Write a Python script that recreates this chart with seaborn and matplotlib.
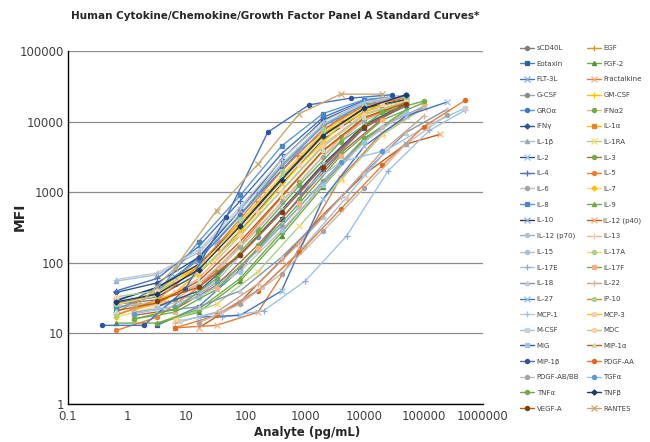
import matplotlib
matplotlib.use("Agg")
from matplotlib import pyplot as plt
import seaborn as sns
import warnings
warnings.filterwarnings('ignore')

# standard curve data: concentration (pg/mL) and MFI
x_scd40l = [0.65, 3.2, 16, 80, 400, 2000, 10000, 50000]
y_scd40l = [26, 30, 48, 130, 520, 2400, 8800, 16500]
x_egf = [0.65, 3.2, 16, 80, 400, 2000, 10000, 50000]
y_egf = [20, 40, 110, 480, 2400, 9000, 17500, 21000]
x_eotaxin = [3.2, 16, 80, 400, 2000, 10000, 50000]
y_eotaxin = [13, 24, 80, 420, 2100, 8200, 17000]
x_fgf2 = [0.65, 3.2, 16, 80, 400, 2000, 10000, 50000]
y_fgf2 = [14, 14, 20, 55, 240, 1200, 5600, 13500]
x_flt3l = [1.3, 6.4, 32, 160, 800, 4000, 20000]
y_flt3l = [30, 62, 200, 900, 3800, 11500, 19000]
x_fractalkine = [6.4, 32, 160, 800, 4000, 20000, 100000]
y_fractalkine = [12, 13, 20, 160, 1600, 7000, 16000]
x_gcsf = [0.65, 3.2, 16, 80, 400, 2000, 10000, 50000]
y_gcsf = [24, 26, 36, 85, 330, 1450, 5800, 13500]
x_gmcsf = [0.65, 3.2, 16, 80, 400, 2000, 10000, 50000]
y_gmcsf = [25, 38, 95, 380, 1700, 6800, 15000, 20000]
x_gro = [0.65, 3.2, 16, 80, 400, 2000, 10000, 50000]
y_gro = [30, 44, 110, 480, 2300, 8600, 17500, 22000]
x_ifna2 = [1.3, 6.4, 32, 160, 800, 4000, 20000]
y_ifna2 = [22, 30, 75, 300, 1400, 6000, 15000]
x_ifng = [0.65, 3.2, 16, 80, 400, 2000, 10000, 50000]
y_ifng = [38, 52, 120, 560, 2900, 10500, 19000, 23500]
x_il1a = [1.3, 6.4, 32, 160, 800, 4000, 20000]
y_il1a = [28, 50, 160, 700, 3200, 11000, 19500]
x_il1b = [0.65, 3.2, 16, 80, 400, 2000, 10000, 50000]
y_il1b = [55, 68, 140, 560, 2500, 9200, 18500, 22500]
x_il1ra = [6.4, 32, 160, 800, 4000, 20000, 100000]
y_il1ra = [16, 26, 75, 330, 1500, 6500, 15500]
x_il2 = [0.65, 3.2, 16, 80, 400, 2000, 10000, 50000]
y_il2 = [27, 33, 70, 280, 1300, 5600, 14000, 20500]
x_il3 = [1.3, 6.4, 32, 160, 800, 4000, 20000]
y_il3 = [18, 22, 48, 180, 800, 3600, 11000]
x_il4 = [0.65, 3.2, 16, 80, 400, 2000, 10000, 50000]
y_il4 = [40, 60, 170, 750, 3500, 11500, 20000, 23000]
x_il5 = [0.65, 3.2, 16, 80, 400, 2000, 10000, 50000]
y_il5 = [11, 17, 45, 180, 850, 3800, 11000, 18500]
x_il6 = [0.65, 3.2, 16, 80, 400, 2000, 10000, 50000]
y_il6 = [24, 28, 50, 170, 720, 3200, 10500, 17500]
x_il7 = [0.65, 3.2, 16, 80, 400, 2000, 10000, 50000]
y_il7 = [17, 24, 70, 300, 1400, 5800, 14500, 19500]
x_il8 = [0.65, 3.2, 16, 80, 400, 2000, 10000, 50000]
y_il8 = [22, 38, 200, 900, 4500, 13000, 20500, 23500]
x_il9 = [3.2, 16, 80, 400, 2000, 10000, 50000]
y_il9 = [14, 22, 60, 270, 1300, 5800, 14500]
x_il10 = [0.65, 3.2, 16, 80, 400, 2000, 10000, 50000]
y_il10 = [29, 45, 95, 350, 1550, 6400, 15500, 21000]
x_il12p40 = [16, 80, 400, 2000, 10000, 50000, 190000]
y_il12p40 = [12, 28, 110, 480, 1800, 4800, 6600]
x_il12p70 = [1.3, 6.4, 32, 160, 800, 4000, 20000, 100000]
y_il12p70 = [20, 24, 45, 150, 620, 2600, 8500, 16500]
x_il13 = [0.65, 3.2, 16, 80, 400, 2000, 10000, 50000]
y_il13 = [19, 26, 60, 240, 1050, 4700, 13000, 19000]
x_il15 = [3.2, 16, 80, 400, 2000, 10000, 50000]
y_il15 = [24, 32, 75, 290, 1250, 5200, 13500]
x_il17a = [0.65, 3.2, 16, 80, 400, 2000, 10000, 50000]
y_il17a = [26, 34, 85, 360, 1700, 7200, 16500, 21500]
x_il17e = [40, 200, 1000, 5000, 25000, 125000, 500000]
y_il17e = [17, 21, 55, 240, 2000, 7500, 14500]
x_il17f = [1.3, 6.4, 32, 160, 800, 4000, 20000, 100000]
y_il17f = [16, 20, 42, 160, 700, 3300, 10500, 18500]
x_il18 = [3.2, 16, 80, 400, 2000, 10000, 50000, 250000]
y_il18 = [20, 24, 40, 120, 450, 1900, 7000, 15000]
x_il22 = [6.4, 32, 160, 800, 4000, 20000, 100000]
y_il22 = [14, 20, 50, 190, 850, 3800, 12000]
x_il27 = [16, 80, 400, 2000, 10000, 50000, 250000]
y_il27 = [17, 18, 40, 800, 4500, 12000, 19000]
x_ip10 = [0.65, 3.2, 16, 80, 400, 2000, 10000, 50000]
y_ip10 = [18, 30, 90, 420, 2000, 7800, 17000, 21500]
x_mcp1 = [0.65, 3.2, 16, 80, 400, 2000, 10000, 50000]
y_mcp1 = [58, 72, 150, 620, 2900, 10000, 19000, 24000]
x_mcp3 = [1.3, 6.4, 32, 160, 800, 4000, 20000]
y_mcp3 = [21, 38, 120, 520, 2400, 9000, 18000]
x_mcsf = [7.7, 38, 190, 960, 4800, 24000, 120000, 500000]
y_mcsf = [15, 20, 45, 170, 820, 4000, 8900, 15600]
x_mdc = [0.65, 3.2, 16, 80, 400, 2000, 10000, 50000]
y_mdc = [33, 40, 75, 250, 1050, 4400, 12500, 19000]
x_mig = [3.2, 16, 80, 400, 2000, 10000, 50000]
y_mig = [24, 40, 130, 560, 2500, 9000, 18000]
x_mip1a = [0.65, 3.2, 16, 80, 400, 2000, 10000, 50000]
y_mip1a = [21, 27, 55, 200, 880, 3900, 11500, 18500]
x_mip1b = [0.38, 1.9, 9.5, 47, 235, 1170, 5900, 29000]
y_mip1b = [13, 13, 42, 450, 7100, 17300, 21500, 24000]
x_pdgfaa = [6.4, 32, 160, 800, 4000, 20000, 100000, 500000]
y_pdgfaa = [12, 18, 40, 140, 580, 2400, 8500, 20000]
x_pdgfbb = [16, 80, 400, 2000, 10000, 50000, 250000]
y_pdgfbb = [14, 26, 70, 280, 1150, 4800, 12500]
x_tgfa = [1.3, 6.4, 32, 160, 800, 4000, 20000]
y_tgfa = [19, 24, 55, 230, 1000, 2700, 3800]
x_tnfa = [1.3, 6.4, 32, 160, 800, 4000, 20000, 100000]
y_tnfa = [16, 22, 60, 270, 1250, 5200, 13500, 19500]
x_tnfb = [0.65, 3.2, 16, 80, 400, 2000, 10000, 50000]
y_tnfb = [28, 36, 80, 330, 1500, 6300, 15500, 24000]
x_vegfa = [3.2, 16, 80, 400, 2000, 10000, 50000]
y_vegfa = [29, 45, 130, 520, 2300, 8500, 17500]
x_rantes = [1.3, 6.4, 32, 160, 800, 4000, 20000]
y_rantes = [22, 85, 550, 2500, 13000, 24500, 24500]

series = [
    ("sCD40L", x_scd40l, y_scd40l), ("EGF", x_egf, y_egf),
    ("Eotaxin", x_eotaxin, y_eotaxin), ("FGF-2", x_fgf2, y_fgf2),
    ("FLT-3L", x_flt3l, y_flt3l), ("Fractalkine", x_fractalkine, y_fractalkine),
    ("G-CSF", x_gcsf, y_gcsf), ("GM-CSF", x_gmcsf, y_gmcsf),
    ("GROα", x_gro, y_gro), ("IFNα2", x_ifna2, y_ifna2),
    ("IFNγ", x_ifng, y_ifng), ("IL-1α", x_il1a, y_il1a),
    ("IL-1β", x_il1b, y_il1b), ("IL-1RA", x_il1ra, y_il1ra),
    ("IL-2", x_il2, y_il2), ("IL-3", x_il3, y_il3),
    ("IL-4", x_il4, y_il4), ("IL-5", x_il5, y_il5),
    ("IL-6", x_il6, y_il6), ("IL-7", x_il7, y_il7),
    ("IL-8", x_il8, y_il8), ("IL-9", x_il9, y_il9),
    ("IL-10", x_il10, y_il10), ("IL-12 (p40)", x_il12p40, y_il12p40),
    ("IL-12 (p70)", x_il12p70, y_il12p70), ("IL-13", x_il13, y_il13),
    ("IL-15", x_il15, y_il15), ("IL-17A", x_il17a, y_il17a),
    ("IL-17E", x_il17e, y_il17e), ("IL-17F", x_il17f, y_il17f),
    ("IL-18", x_il18, y_il18), ("IL-22", x_il22, y_il22),
    ("IL-27", x_il27, y_il27), ("IP-10", x_ip10, y_ip10),
    ("MCP-1", x_mcp1, y_mcp1), ("MCP-3", x_mcp3, y_mcp3),
    ("M-CSF", x_mcsf, y_mcsf), ("MDC", x_mdc, y_mdc),
    ("MIG", x_mig, y_mig), ("MIP-1α", x_mip1a, y_mip1a),
    ("MIP-1β", x_mip1b, y_mip1b), ("PDGF-AA", x_pdgfaa, y_pdgfaa),
    ("PDGF-AB/BB", x_pdgfbb, y_pdgfbb), ("TGFα", x_tgfa, y_tgfa),
    ("TNFα", x_tnfa, y_tnfa), ("TNFβ", x_tnfb, y_tnfb),
    ("VEGF-A", x_vegfa, y_vegfa), ("RANTES", x_rantes, y_rantes),
]

# line colour, marker colour, marker (Excel-like styles)
styles = [
    ('#7F7F7F', '#7F7F7F', 'o'), ('#C89B2C', '#C89B2C', '+'),
    ('#4F81BD', '#2E5E9E', 's'), ('#70AD47', '#5B8F3A', '^'),
    ('#4472C4', '#8FAADC', 'x'), ('#E07B39', '#F4B183', 'x'),
    ('#A5A5A5', '#8C8C8C', 'o'), ('#FFC000', '#FFC000', '+'),
    ('#5B9BD5', '#4472C4', 'o'), ('#F4B183', '#70AD47', 'o'),
    ('#2F5597', '#2F5597', 'D'), ('#FFC000', '#ED7D31', 's'),
    ('#9DC3E6', '#A5A5A5', '^'), ('#A9D18E', '#FFD966', 'x'),
    ('#2F5597', '#9DC3E6', 'x'), ('#B4693E', '#70AD47', 'o'),
    ('#4472C4', '#4472C4', '+'), ('#ED7D31', '#ED7D31', 'o'),
    ('#BFBFBF', '#A5A5A5', 'o'), ('#FFD966', '#FFC000', 'D'),
    ('#5B9BD5', '#4A86C5', 's'), ('#70AD47', '#70AD47', '^'),
    ('#203864', '#8FAADC', 'x'), ('#C55A11', '#F4B183', 'x'),
    ('#8FAADC', '#BFBFBF', 'o'), ('#F4B183', '#F8CBAD', '+'),
    ('#BFBFBF', '#9DC3E6', 'o'), ('#FFD24D', '#A9D18E', 'o'),
    ('#9DC3E6', '#8FAADC', '+'), ('#70AD47', '#F4B183', 's'),
    ('#8497B0', '#C9C9C9', '^'), ('#C9A08A', '#D9B59A', '+'),
    ('#4472C4', '#9DC3E6', 'x'), ('#ED7D31', '#A9D18E', 'o'),
    ('#C9C9C9', '#9DC3E6', '+'), ('#FFC000', '#F8CBAD', 'o'),
    ('#9DC3E6', '#D0D0D0', 's'), ('#A9D18E', '#FFD0A0', 'o'),
    ('#2F5597', '#9DC3E6', 's'), ('#C55A11', '#C5E0B4', '^'),
    ('#4472C4', '#2F5597', 'o'), ('#ED7D31', '#E06A1A', 'o'),
    ('#BFBFBF', '#A5A5A5', 'o'), ('#9DC3E6', '#5B9BD5', 'o'),
    ('#70AD47', '#70AD47', 'o'), ('#203864', '#203864', 'D'),
    ('#C55A11', '#843C0C', 'o'), ('#C9A96E', '#C9A96E', 'x'),
]

sns.set_style("white")
plt.rcParams['font.family'] = ['DejaVu Sans']

fig = plt.figure(figsize=(6.5, 4.42), dpi=100)
ax = fig.add_axes([68 / 650, 1 - 404 / 442, 415 / 650, 353 / 442])
ax.set_xscale('log')
ax.set_yscale('log')

for (name, xs, ys), (lc, mc, m) in zip(series, styles):
    ms = 3.0 if m in ('o', 's', '^', 'D') else 4.0
    if m == 'D':
        ms = 2.6
    sns.lineplot(x=xs, y=ys, ax=ax, color=lc, linewidth=1.0, marker=m,
                 markersize=ms, markerfacecolor=mc, markeredgecolor=mc,
                 markeredgewidth=0.9, sort=False, label=name, legend=False)

ax.set_xlim(0.1, 1000000)
ax.set_ylim(1, 100000)
ax.set_xticks([0.1, 1, 10, 100, 1000, 10000, 100000, 1000000])
ax.set_xticklabels(['0.1', '1', '10', '100', '1000', '10000', '100000', '1000000'])
ax.set_yticks([1, 10, 100, 1000, 10000, 100000])
ax.set_yticklabels(['1', '10', '100', '1000', '10000', '100000'])
ax.tick_params(axis='both', which='major', labelsize=8.5, labelcolor='#404040',
               direction='out', length=0)
ax.tick_params(axis='x', which='major', pad=4.5)
ax.tick_params(axis='y', which='major', pad=3)
ax.tick_params(axis='both', which='minor', direction='in', length=2, width=0.5,
               color='#909090')
ax.yaxis.grid(True, which='major', color='#8C8C8C', linewidth=0.9)
ax.xaxis.grid(False)
ax.set_axisbelow(True)
for side in ['top', 'right']:
    ax.spines[side].set_visible(False)
for side in ['left', 'bottom']:
    ax.spines[side].set_color('black')
    ax.spines[side].set_linewidth(1.0)

ax.set_xlabel("Analyte (pg/mL)", fontsize=8.5, fontweight='bold', color='#262626')
ax.xaxis.set_label_coords(0.576, -0.063)
ax.set_ylabel("MFI", fontsize=10, fontweight='bold', color='#262626')
ax.yaxis.set_label_coords(-0.099, 0.53)

fig.suptitle("Human Cytokine/Chemokine/Growth Factor Panel A Standard Curves*",
             x=275 / 650, y=1 - 11 / 442, fontsize=7.5, fontweight='bold',
             color='#262626', va='top')

# legend in two columns, filled row by row like Excel
handles, labels = ax.get_legend_handles_labels()
order = list(range(0, len(handles), 2)) + list(range(1, len(handles), 2))
fig.legend([handles[i] for i in order], [labels[i] for i in order],
           loc='upper left', bbox_to_anchor=(520 / 650, 1 - 45 / 442),
           ncol=2, frameon=False, fontsize=5, labelcolor='#404040',
           numpoints=1, handlelength=2.0, handletextpad=0.4,
           columnspacing=1.1, labelspacing=1.39, borderpad=0, borderaxespad=0)

fig.savefig("out.png", dpi=100)
